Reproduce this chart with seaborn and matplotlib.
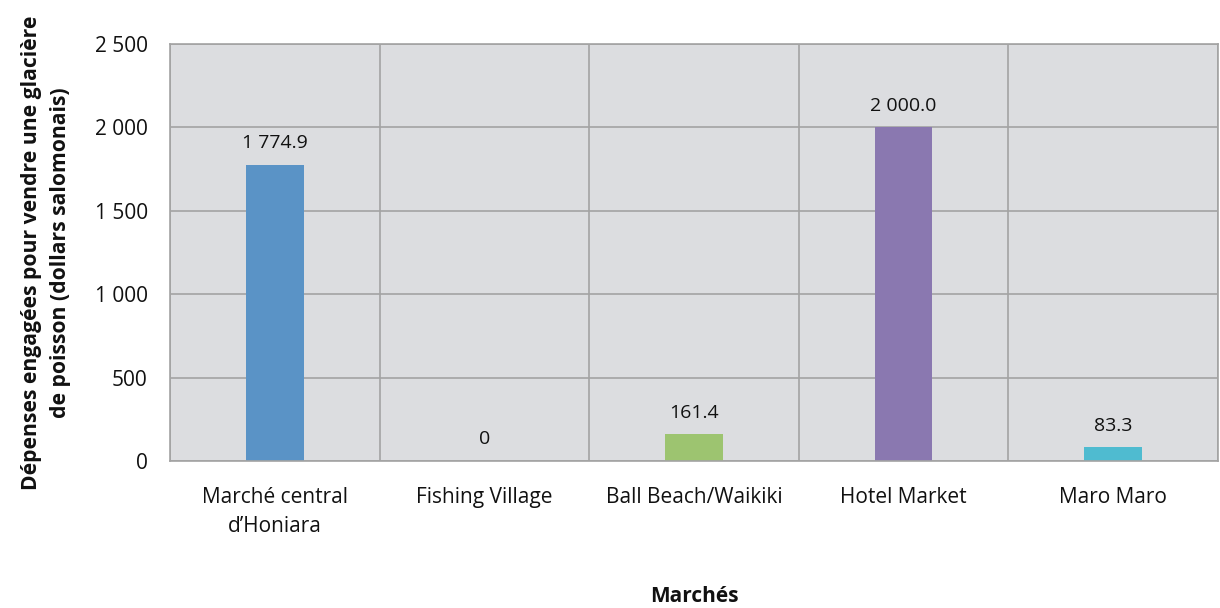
import numpy as np
import pandas as pd
import seaborn as sns
import matplotlib.pyplot as plt
from matplotlib.ticker import FuncFormatter, MultipleLocator

categories = ["Marché central\nd\u2019Honiara", "Fishing Village", "Ball Beach/Waikiki", "Hotel Market", "Maro Maro"]
values = [1774.9, 0, 161.4, 2000.0, 83.3]
colors = ["#5a93c6", "#9a9a9a", "#9dc470", "#8a78b0", "#4fbbd0"]

sns.set_theme(style="white")
plt.rcParams['font.family'] = ['Open Sans', 'DejaVu Sans']

df = pd.DataFrame({"cat": categories, "val": values})

fig = plt.figure(figsize=(12.2, 6.08), dpi=100)
ax = fig.add_axes([170/1220, 1-461/608, (1218-170)/1220, (461-44)/608])
ax.set_facecolor("#dcdde0")

sns.barplot(data=df, x="cat", y="val", hue="cat", palette=colors, legend=False,
            width=0.275, ax=ax, saturation=1, linewidth=0, edgecolor="none")

def fmt_thousands(v, pos=None):
    return f"{v:,.0f}".replace(",", " ")

ax.set_ylim(0, 2500)
ax.set_xlim(-0.5, len(categories) - 0.5)
ax.yaxis.set_major_locator(MultipleLocator(500))
ax.yaxis.set_major_formatter(FuncFormatter(fmt_thousands))
ax.set_xticks(np.arange(-0.5, len(categories)), minor=True)
ax.grid(which="minor", axis="x", color="#a3a3a3", linewidth=1.2)
ax.grid(which="major", axis="y", color="#a3a3a3", linewidth=1.2)
ax.grid(which="major", axis="x", visible=False)
ax.set_axisbelow(True)
ax.tick_params(axis="both", which="both", length=0)
ax.tick_params(axis="y", labelsize=15, pad=16, labelcolor="#111111")
ax.tick_params(axis="x", labelsize=15, pad=19, labelcolor="#111111")
for t in ax.get_xticklabels():
    t.set_linespacing(1.45)

for s in ax.spines.values():
    s.set_color("#a3a3a3")
    s.set_linewidth(1.2)
    s.set_visible(True)

for i, v in enumerate(values):
    lab = "0" if v == 0 else f"{v:,.1f}".replace(",", " ")
    ax.annotate(lab, (i, v), xytext=(0, 9), textcoords="offset points",
                ha="center", va="bottom", fontsize=14, color="#111111")

ax.set_xlabel("Marchés", fontsize=15, fontweight="bold", color="#111111")
ax.xaxis.set_label_coords(0.5, -0.300)
ax.set_ylabel("Dépenses engagées pour vendre une glacière\nde poisson (dollars salomonais)",
              fontsize=15.2, fontweight="bold", color="#111111", linespacing=1.5)
ax.yaxis.set_label_coords(-0.094, 0.5)

fig.savefig("out.png", dpi=100)
